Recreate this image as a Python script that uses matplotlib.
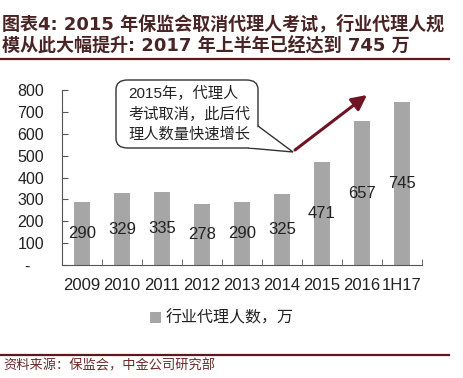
import matplotlib
matplotlib.use('Agg')
import matplotlib.pyplot as plt
from matplotlib.patches import FancyBboxPatch, Polygon
from matplotlib.lines import Line2D

plt.rcParams['font.family'] = ['Liberation Sans', 'Noto Sans CJK SC']

years = ['2009', '2010', '2011', '2012', '2013', '2014', '2015', '2016', '1H17']
agents = [290, 329, 335, 278, 290, 325, 471, 657, 745]
yticks = [0, 100, 200, 300, 400, 500, 600, 700, 800]
ytick_labels = ['-   ', '100', '200', '300', '400', '500', '600', '700', '800']

W, H = 463, 378
fig = plt.figure(figsize=(W / 100, H / 100), dpi=100)


def fx(x):
    return x / W


def fy(y):
    return 1 - y / H


ax = fig.add_axes([fx(62), fy(265), fx(422) - fx(62), fy(90) - fy(265)])
x = list(range(len(years)))
bars = ax.bar(x, agents, width=0.42, color='#a6a6a6', label='行业代理人数，万')
for xi, v in zip(x, agents):
    ax.text(xi, v / 2, str(v), ha='center', va='center', fontsize=12, color='#222222')

ax.set_xlim(-0.5, len(years) - 0.5)
ax.set_ylim(0, 800)
ax.set_yticks(yticks)
ax.set_yticklabels(ytick_labels)
ax.set_xticks(x)
ax.set_xticklabels(years)
ax.set_xticks([i + 0.5 for i in x], minor=True)
ax.tick_params(axis='x', which='major', length=0, pad=9, labelsize=12, colors='#222222')
ax.tick_params(axis='x', which='minor', direction='in', length=4, color='#555555')
ax.tick_params(axis='y', direction='in', length=4, pad=13, labelsize=11.5, colors='#222222')
ax.tick_params(axis='y', color='#555555')
for s in ['top', 'right']:
    ax.spines[s].set_visible(False)
for s in ['left', 'bottom']:
    ax.spines[s].set_color('#555555')
    ax.spines[s].set_linewidth(0.8)

leg = fig.legend(handles=[bars], labels=['行业代理人数，万'], loc='center',
                 bbox_to_anchor=(fx(222), fy(318)), frameon=False, fontsize=11.5,
                 handlelength=0.7, handleheight=0.7, handletextpad=0.3)
for t in leg.get_texts():
    t.set_color('#222222')

# title
title_font = ['DejaVu Sans', 'Noto Sans CJK SC']
fig.text(fx(2), fy(24), '图表4: 2015 年保监会取消代理人考试，行业代理人规', fontsize=13,
         fontweight='bold', color='#4a2424', family=title_font, va='center', ha='left')
fig.text(fx(2), fy(46), '模从此大幅提升: 2017 年上半年已经达到 745 万', fontsize=13,
         fontweight='bold', color='#4a2424', family=title_font, va='center', ha='left')
fig.add_artist(Line2D([0, fx(449)], [fy(59), fy(59)], color='#5c1a1a', lw=1.6))
fig.add_artist(Line2D([0, fx(449)], [fy(355), fy(355)], color='#5c1a1a', lw=1.6))
fig.text(fx(3), fy(366), '资料来源：保监会，中金公司研究部', fontsize=9.5, color='#6a2a2a',
         family=['Noto Sans CJK SC'], va='center', ha='left', style='italic')

# callout box
box = FancyBboxPatch((fx(116), fy(148)), fx(258) - fx(116), fy(80) - fy(148),
                     boxstyle='round,pad=0,rounding_size=0.025', transform=fig.transFigure,
                     facecolor='white', edgecolor='#333333', lw=1.0)
fig.add_artist(box)
wedge = Polygon([(fx(258), fy(126)), (fx(293), fy(152)), (fx(248), fy(148))],
                closed=False, transform=fig.transFigure, facecolor='white',
                edgecolor='#333333', lw=1.0)
fig.add_artist(wedge)
fig.add_artist(Polygon([(fx(257.4), fy(127)), (fx(249), fy(147.4)), (fx(257.4), fy(147.4))],
                       closed=True, transform=fig.transFigure, facecolor='white',
                       edgecolor='none'))
fig.text(fx(128), fy(114), '2015年，代理人\n考试取消，此后代\n理人数量快速增长', fontsize=11,
         color='#222222', family=['Liberation Sans', 'Noto Sans CJK SC'], va='center',
         ha='left', linespacing=1.45)

# red arrow
ax.annotate('', xy=(fx(367), fy(95)), xytext=(fx(295), fy(150)),
            xycoords='figure fraction', textcoords='figure fraction',
            arrowprops=dict(arrowstyle='-|>,head_length=0.9,head_width=0.45',
                            color='#6e1423', lw=2.2, shrinkA=0, shrinkB=0),
            annotation_clip=False)

fig.savefig('out.png', dpi=100)
